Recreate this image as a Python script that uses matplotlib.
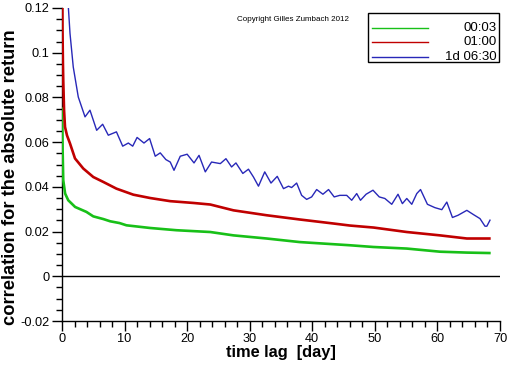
import matplotlib
matplotlib.use('Agg')
import matplotlib.pyplot as plt
from matplotlib.ticker import MultipleLocator, FuncFormatter
from matplotlib.patches import Rectangle

plt.rcParams['axes.unicode_minus'] = False
plt.rcParams['font.family'] = ['Liberation Sans', 'DejaVu Sans']

# ---- data ----
series_labels = ['00:03', '01:00', '1d 06:30']
series_colors = ['#18c018', '#c00000', '#2828b8']

green_x = [0.02, 0.1, 0.2, 0.5, 1.0, 2.1, 3.9, 5.0, 6.6, 7.7, 9.2, 10.3, 14.1,
           18.3, 23.7, 27.4, 32.7, 38.0, 45.9, 49.8, 55.1, 60.4, 64.7, 68.3]
green_y = [0.075, 0.0564, 0.0430, 0.0370, 0.0340, 0.0310, 0.0288, 0.0268, 0.0256,
           0.0246, 0.0238, 0.0228, 0.0216, 0.0206, 0.0198, 0.0183, 0.0169, 0.0153,
           0.0139, 0.0131, 0.0124, 0.0110, 0.0106, 0.0104]

red_x = [0.02, 0.08, 0.15, 0.2, 0.33, 0.48, 0.8, 1.28, 2.08, 3.4, 5.0, 6.6, 8.7,
         11.4, 14.1, 17.3, 21.0, 23.7, 27.4, 32.7, 38.0, 43.4, 46.0, 49.8, 55.1,
         60.4, 64.7, 68.3]
red_y = [0.140, 0.110, 0.095, 0.0877, 0.0743, 0.0668, 0.0630, 0.0594, 0.0527,
         0.0482, 0.0444, 0.0422, 0.0392, 0.0365, 0.0350, 0.0336, 0.0328, 0.0321,
         0.0295, 0.0273, 0.0254, 0.0236, 0.0227, 0.0218, 0.0198, 0.0183, 0.0169,
         0.0169]

blue_x = [0.9, 1.0, 1.28, 1.8, 2.6, 3.68, 4.47, 5.54, 6.5, 7.4, 8.7, 9.7, 10.6,
          11.3, 12.0, 13.1, 14.0, 14.9, 15.7, 16.6, 17.3, 17.9, 18.9, 20.0, 21.1,
          21.9, 22.9, 23.9, 25.3, 26.2, 27.1, 27.8, 28.9, 29.8, 30.6, 31.4, 32.4,
          33.4, 34.4, 35.4, 36.2, 36.7, 37.5, 38.3, 39.1, 39.9, 40.7, 41.7, 42.6,
          43.5, 44.4, 45.5, 46.3, 47.1, 47.7, 48.6, 49.7, 50.7, 51.6, 52.7, 53.7,
          54.4, 55.1, 55.9, 56.7, 57.3, 58.4, 59.6, 60.7, 61.5, 62.4, 63.3, 64.7,
          65.7, 66.8, 67.6, 67.9, 68.4]
blue_y = [0.135, 0.121, 0.1086, 0.0936, 0.0802, 0.0713, 0.0743, 0.0653, 0.0680,
          0.0631, 0.0646, 0.0582, 0.0596, 0.0582, 0.0621, 0.0596, 0.0616, 0.0537,
          0.0552, 0.0522, 0.0511, 0.0474, 0.0537, 0.0546, 0.0507, 0.0541, 0.0467,
          0.0511, 0.0504, 0.0526, 0.0489, 0.0507, 0.0460, 0.0479, 0.0444, 0.0403,
          0.0467, 0.0417, 0.0447, 0.0392, 0.0403, 0.0397, 0.0417, 0.0362, 0.0344,
          0.0355, 0.0388, 0.0367, 0.0388, 0.0355, 0.0362, 0.0362, 0.0340, 0.0370,
          0.0340, 0.0367, 0.0385, 0.0355, 0.0348, 0.0322, 0.0367, 0.0325, 0.0348,
          0.0322, 0.0370, 0.0388, 0.0322, 0.0307, 0.0298, 0.0332, 0.0263, 0.0273,
          0.0295, 0.0277, 0.0258, 0.0224, 0.0224, 0.0251]

xs = [green_x, red_x, blue_x]
ys = [green_y, red_y, blue_y]
widths = [1.9, 1.9, 1.0]

fig = plt.figure(figsize=(5.12, 3.66), dpi=100)
ax = fig.add_axes([62/512, 45/366, 438/512, 313/366])

for x, y, c, w in zip(xs, ys, series_colors, widths):
    ax.plot(x, y, color=c, lw=w, solid_joinstyle='round', zorder=3)

ax.axhline(0, color='black', lw=1.0, zorder=2)

ax.set_xlim(0, 70)
ax.set_ylim(-0.02, 0.12)
ax.xaxis.set_major_locator(MultipleLocator(10))
ax.xaxis.set_minor_locator(MultipleLocator(2))
ax.yaxis.set_major_locator(MultipleLocator(0.02))
ax.yaxis.set_minor_locator(MultipleLocator(0.005))
ax.yaxis.set_major_formatter(FuncFormatter(lambda v, p: f"{round(v, 4):g}"))

for s in ['top', 'right']:
    ax.spines[s].set_visible(False)
for s in ['left', 'bottom']:
    ax.spines[s].set_linewidth(1.0)

ax.tick_params(which='major', direction='out', length=7, width=1, labelsize=9.2, pad=2)
ax.tick_params(which='minor', direction='out', length=4, width=1)

ax.set_xlabel('time lag  [day]', fontsize=11.8, fontweight='bold', labelpad=0)
ax.set_ylabel('correlation for the absolute return', fontsize=13.2, fontweight='bold')
ax.yaxis.set_label_coords(-0.098, 0.46)

ax.text(0.527, 0.962, 'Copyright Gilles Zumbach 2012', transform=ax.transAxes,
        ha='center', va='center', fontsize=5.8)

# legend box (drawn by hand to get right-aligned labels)
ax.add_patch(Rectangle((0.699, 0.827), 0.299, 0.157, transform=ax.transAxes,
                       facecolor='white', edgecolor='black', lw=1.0, zorder=5,
                       clip_on=False))
row_y = [0.936, 0.891, 0.843]
for lab, c, yy in zip(series_labels, series_colors, row_y):
    ax.plot([0.708, 0.836], [yy, yy], transform=ax.transAxes, color=c, lw=1.0,
            zorder=6, clip_on=False)
    ax.text(0.992, yy, lab, transform=ax.transAxes, ha='right', va='center',
            fontsize=9.5, zorder=6)

fig.savefig('out.png', dpi=100)
